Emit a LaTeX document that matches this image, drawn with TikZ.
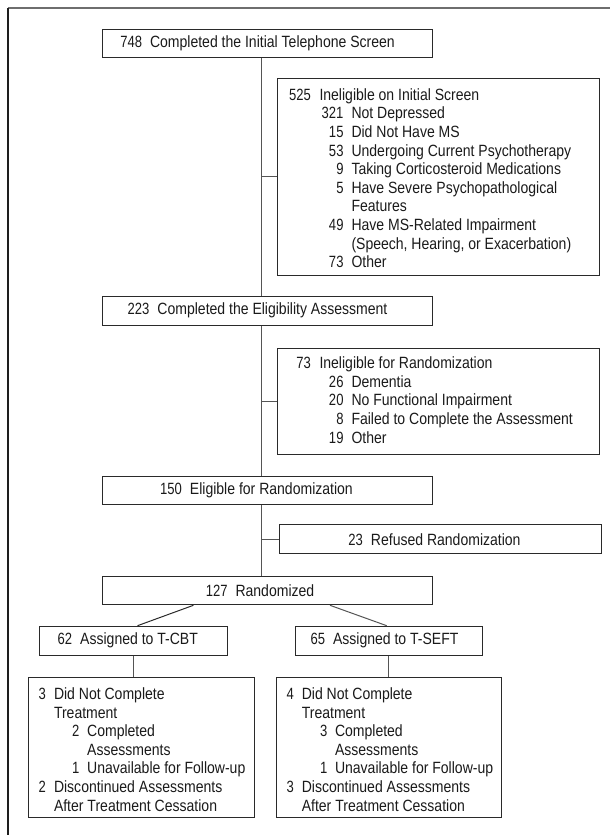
\documentclass[tikz,border=0pt]{standalone}
\usepackage{fontspec}
\setmainfont{Liberation Sans}[FakeStretch=0.86]
\newfontfamily\numf{Liberation Sans}[FakeStretch=0.8]
\usetikzlibrary{calc}
\definecolor{boxc}{HTML}{2A2A2A}
\definecolor{linec}{HTML}{555555}
\definecolor{txtc}{HTML}{1A1A1A}
\definecolor{frtop}{HTML}{6E6E6E}
\definecolor{frleft}{HTML}{1E1E1E}
% number right edge, label position, number, label
\newcommand\ent[4]{\hspace*{#1bp}\llap{\numf #3}\hspace*{\dimexpr#2bp-#1bp\relax}#4}
\newcommand\cont[2]{\hspace*{#1bp}#2}
\newcommand\oneline[4]{\makebox[#1bp]{{\numf #3}\hspace{8bp}#4\hspace*{#2bp}}}
\newcommand\multi[2]{\makebox[#1bp][l]{\begin{tabular}{@{}l@{}}#2\end{tabular}}}
\tikzset{
  box/.style={draw=boxc, line width=1bp, inner sep=0pt, anchor=north west, text=txtc},
  conn/.style={draw=linec, line width=1bp},
  frame/.style={line width=1.5bp}
}
\begin{document}
\begin{tikzpicture}[x=1bp, y=-1bp, font={\fontsize{16.3bp}{18.6bp}\selectfont}]
\useasboundingbox (0,0) rectangle (610,835);
\draw[frame, frtop] (8,8) -- (610,8);
\draw[frame, frleft] (8,8) -- (8,835);
\coordinate (m) at (261,0);

\node[box, minimum height=28.5bp] (A) at (102,28.5)
  {\oneline{330}{20}{748}{Completed the Initial Telephone Screen}};
\node[box, minimum height=197.5bp] (B) at (277,77.5) {\multi{322}{%
\rule{0pt}{20bp}\ent{33.5}{42}{525}{Ineligible on Initial Screen}\\
\ent{66}{74}{321}{Not Depressed}\\
\ent{66}{74}{15}{Did Not Have MS}\\
\ent{66}{74}{53}{Undergoing Current Psychotherapy}\\
\ent{66}{74}{9}{Taking Corticosteroid Medications}\\
\ent{66}{74}{5}{Have Severe Psychopathological}\\
\cont{74}{Features}\\
\ent{66}{74}{49}{Have MS-Related Impairment}\\
\cont{74}{(Speech, Hearing, or Exacerbation)}\\
\ent{66}{74}{73}{Other}}};
\node[box, minimum height=29bp] (C) at (102,295.5)
  {\oneline{330}{20}{223}{Completed the Eligibility Assessment}};
\node[box, minimum height=106.5bp] (D) at (277,347.5) {\multi{322}{%
\rule{0pt}{15bp}\ent{33.5}{42}{73}{Ineligible for Randomization}\\
\ent{66}{74}{26}{Dementia}\\
\ent{66}{74}{20}{No Functional Impairment}\\
\ent{66}{74}{8}{Failed to Complete the Assessment}\\
\ent{66}{74}{19}{Other}}};
\node[box, minimum height=28.5bp] (E) at (102,475.7)
  {\oneline{330}{22}{150}{Eligible for Randomization}};
\node[box, minimum height=29bp] (F) at (278.5,524.3)
  {\oneline{322}{11}{23}{Refused Randomization}};
\node[box, minimum height=28.6bp] (G) at (102,575.7)
  {\oneline{330}{15}{127}{Randomized}};
\node[box, minimum height=28.8bp] (H) at (39,625.7)
  {\oneline{187.6}{11}{62}{Assigned to T-CBT}};
\node[box, minimum height=28.8bp] (I) at (294.5,625.7)
  {\oneline{187}{8}{65}{Assigned to T-SEFT}};
\node[box, minimum height=139.4bp] (J) at (28,677.3) {\multi{226.3}{%
\rule{0pt}{21bp}\ent{17.5}{25.5}{3}{Did Not Complete}\\
\cont{25.5}{Treatment}\\
\ent{51}{58.7}{2}{Completed}\\
\cont{58.7}{Assessments}\\
\ent{51}{58.7}{1}{Unavailable for Follow-up}\\
\ent{17.5}{25.5}{2}{Discontinued Assessments}\\
\cont{25.5}{After Treatment Cessation}}};
\node[box, minimum height=139.4bp] (K) at (275.8,677.3) {\multi{225.4}{%
\rule{0pt}{21bp}\ent{17.5}{25.5}{4}{Did Not Complete}\\
\cont{25.5}{Treatment}\\
\ent{51}{58.7}{3}{Completed}\\
\cont{58.7}{Assessments}\\
\ent{51}{58.7}{1}{Unavailable for Follow-up}\\
\ent{17.5}{25.5}{3}{Discontinued Assessments}\\
\cont{25.5}{After Treatment Cessation}}};

\draw[conn] (A.south -| m) -- (C.north -| m);
\draw[conn] (B.west -| m) -- (B.west);
\draw[conn] (C.south -| m) -- (E.north -| m);
\draw[conn] (D.west -| m) -- (D.west);
\draw[conn] (E.south -| m) -- (G.north -| m);
\draw[conn] (F.west -| m) -- (F.west);
\coordinate (gl) at ($(G.south west)+(91.4,0)$);
\coordinate (hl) at ($(H.north west)+(98.5,0)$);
\coordinate (gr) at ($(G.south west)+(228,0)$);
\coordinate (ir) at ($(I.north west)+(92.2,0)$);
\draw[conn, draw=boxc] (gl) -- (hl);
\draw[conn] (gr) -- (ir);
\draw[conn] (H.south) -- (H.south |- J.north);
\draw[conn] (I.south) -- (I.south |- K.north);
\end{tikzpicture}
\end{document}
